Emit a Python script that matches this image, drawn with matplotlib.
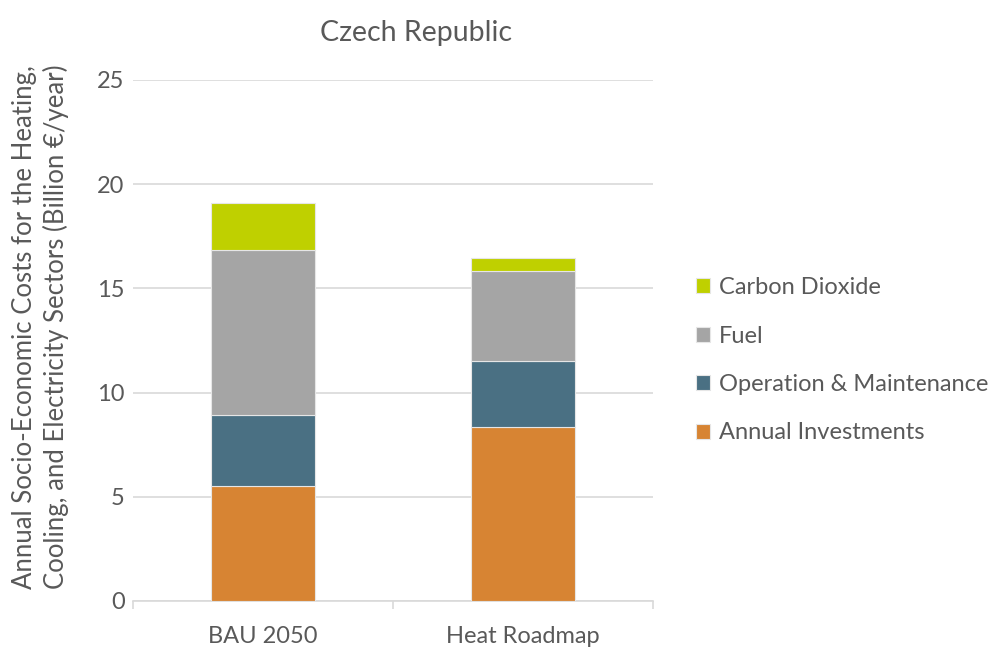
import matplotlib
matplotlib.use("Agg")
import matplotlib.pyplot as plt
import numpy as np

categories = ["BAU 2050", "Heat Roadmap"]
series_names = ["Annual Investments", "Operation & Maintenance", "Fuel", "Carbon Dioxide"]
annual_investments = [5.52, 8.33]
operation_maintenance = [3.42, 3.19]
fuel = [7.90, 4.33]
carbon_dioxide = [2.24, 0.61]
colors = ["#D78433", "#4A7083", "#A5A5A5", "#BFD000"]
yticks = [0, 5, 10, 15, 20, 25]

plt.rcParams['font.family'] = ['Lato', 'DejaVu Sans']
txt = "#595959"

fig = plt.figure(figsize=(10.04, 6.47), dpi=100)
ax = fig.add_axes([0.1325, 0.0711, 0.5175, 0.8053])

x = np.arange(len(categories))
bottom = np.zeros(len(categories))
handles = []
for name, vals, c in zip(series_names, [annual_investments, operation_maintenance, fuel, carbon_dioxide], colors):
    b = ax.bar(x, vals, 0.4, bottom=bottom, color=c, edgecolor="#E6E6E6", linewidth=0.8, label=name, zorder=3)
    handles.append(b)
    bottom += np.array(vals)

ax.set_xlim(-0.5, 1.5)
ax.set_ylim(0, 25)
ax.set_yticks(yticks)
ax.set_yticklabels([str(t) for t in yticks], fontsize=17, color=txt)
ax.yaxis.grid(True, color="#D9D9D9", linewidth=1.2, zorder=0)
ax.tick_params(axis='y', length=0, pad=6)
ax.set_xticks(x)
ax.set_xticklabels(categories, fontsize=17, color=txt)
ax.tick_params(axis='x', length=0, pad=18)
ax.set_xticks([-0.5, 0.5, 1.5], minor=True)
ax.tick_params(axis='x', which='minor', length=6, color="#D9D9D9", width=1.2)
for s in ["top", "right", "left"]:
    ax.spines[s].set_visible(False)
ax.spines["bottom"].set_color("#D9D9D9")
ax.spines["bottom"].set_linewidth(1.2)

ax.set_ylabel("Annual Socio-Economic Costs for the Heating,\nCooling, and Electricity Sectors (Billion €/year)",
              fontsize=18.5, color=txt, labelpad=20, linespacing=1.28)
ax.yaxis.label.set_y(0.526)
ax.set_title("Czech Republic", fontsize=20.5, color=txt, pad=28, x=0.544)

leg = fig.legend(handles[::-1], series_names[::-1], loc="center left", bbox_to_anchor=(0.684, 0.443),
                 frameon=False, fontsize=17, handlelength=0.6, handleheight=0.6,
                 handletextpad=0.38, labelspacing=1.16, borderaxespad=0)
for t in leg.get_texts():
    t.set_color(txt)

fig.savefig("out.png", dpi=100)
